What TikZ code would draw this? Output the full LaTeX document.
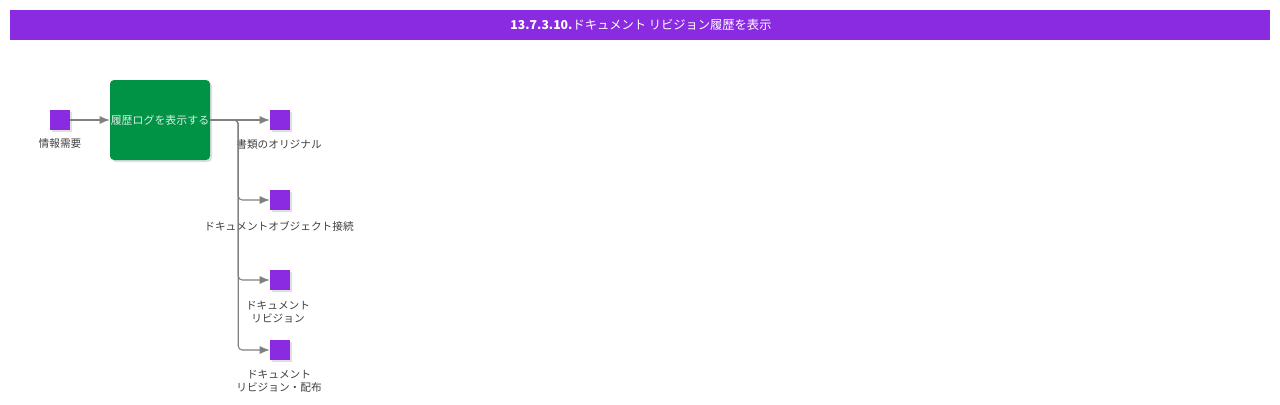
\documentclass[tikz,border=0pt]{standalone}
\usepackage{fontspec}
\setmainfont{Noto Sans CJK JP}
\usetikzlibrary{shadows,arrows.meta}
\definecolor{violet}{RGB}{138,43,226}
\definecolor{leaf}{RGB}{0,146,69}
\tikzset{
  sq/.style={fill=violet,minimum size=15pt,inner sep=0,drop shadow={shadow xshift=1.5pt,shadow yshift=-1.5pt,opacity=.25}},
  lbl/.style={font=\fontsize{8}{10}\selectfont,text=black!75,align=center},
  arr/.style={draw=black!50,line width=.8pt,-{Latex[length=7.5pt,width=6pt]}}
}
\begin{document}
\begin{tikzpicture}[x=.75pt,y=-.75pt]
\useasboundingbox (0,0) rectangle (1280,404);
\fill[violet] (10,10) rectangle (1270,40);
\node[text=white,font=\fontsize{9.2}{11}\selectfont] (title) at (641,25) {\textbf{13.7.3.10.}ドキュメント リビジョン履歴を表示};

\node[fill=leaf,rounded corners=3pt,minimum width=75pt,minimum height=60pt,inner sep=0,
  drop shadow={shadow xshift=1.5pt,shadow yshift=-1.5pt,opacity=.25},
  text=white!85!leaf,font=\fontsize{8.2}{10}\selectfont] (log) at (160,120) {履歴ログを表示する};

\node[sq] (need) at (60,120) {};
\node[lbl] at (60,143) {情報需要};

\node[sq] (orig) at (280,120) {};
\node[sq] (conn) at (280,200) {};
\node[sq] (rev) at (280,280) {};
\node[sq] (dist) at (280,350) {};
\node[lbl] at (279,144) {書類のオリジナル};
\node[lbl] at (279,226) {ドキュメントオブジェクト接続};
\node[lbl] at (278,312) {ドキュメント\\リビジョン};
\node[lbl] at (279,381) {ドキュメント\\リビジョン・配布};

\draw[arr] (need) -- (log);
\draw[arr] (log) -- (orig);
\foreach \o in {conn,rev,dist}
  \draw[arr,rounded corners=3pt] (log.east) -- ++(28,0) |- (\o.west);
\end{tikzpicture}
\end{document}
